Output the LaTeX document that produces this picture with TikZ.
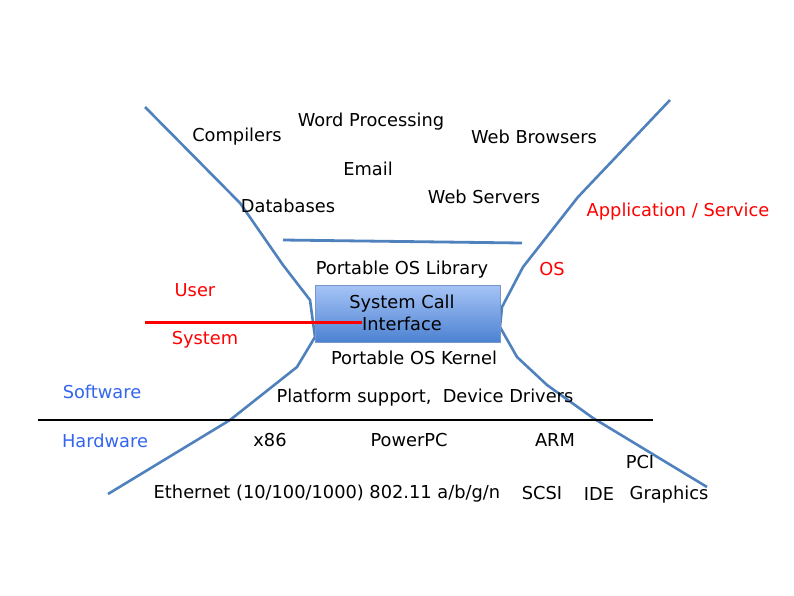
\documentclass[tikz,border=0pt]{standalone}
\usepackage{fontspec}
\setmainfont{DejaVu Sans}

\begin{document}
\begin{tikzpicture}[
                x=1pt, y=-1pt,
                every node/.style={font=\fontsize{17.8}{22}\selectfont, inner sep=0pt, yshift=-1.5pt},
                layer/.style={text=red},
                side/.style={text=sideblue},
                curve/.style={draw=lineblue, line width=2.6pt, line join=round},
                callbox/.style={draw=boxedge, top color=boxtop, bottom color=boxbottom,
                    minimum width=185pt, minimum height=57pt, yshift=1.5pt}
                ]
            \definecolor{lineblue}{RGB}{79,129,189}
            \definecolor{sideblue}{RGB}{51,102,238}
            \definecolor{boxtop}{RGB}{166,196,246}
            \definecolor{boxbottom}{RGB}{76,130,210}
            \definecolor{boxedge}{RGB}{120,150,200}
            \useasboundingbox (0,0) rectangle (794,595);
            % Hourglass
            \draw[curve] (145,107) -- (240,203) -- (283,265) -- (310,300) -- (315,337)
                -- (297,367) -- (230,420) -- (108,494);
            \draw[curve] (670,100) -- (578,197) -- (523,267) -- (502,307) -- (500,327)
                -- (517,357) -- (547,385) -- (593,418) -- (707,487);
            \draw[curve, line width=2.8pt] (283,240) -- (522,243);
            \draw[line width=2.6pt] (38,420) -- (653,420);
            % Nodes
            \node[callbox] (sci) at (407.5,313.5) {};
            \coordinate (userleft) at (145,321);
            \coordinate (userright) at (362,321);
            \draw[red, line width=2.4pt] (userleft) -- (userright);
            \node[align=center] (scitext) at (402,311) {System Call\\Interface};
            \node (compilers) at (237,135) {Compilers};
            \node (word) at (371,120) {Word Processing};
            \node (browsers) at (534,135) {Web Browsers};
            \node (email) at (368,167) {Email};
            \node (servers) at (484,195) {Web Servers};
            \node (databases) at (288,204) {Databases};
            \node[layer] (app) at (678,210) {Application / Service};
            \node (library) at (402,268) {Portable OS Library};
            \node[layer] (os) at (552,268) {OS};
            \node[layer] (user) at (195,289) {User};
            \node[layer] (system) at (205,338) {System};
            \node (kernel) at (414,356) {Portable OS Kernel};
            \node[side] (software) at (102,390) {Software};
            \node (platform) at (425,396) {Platform support,\ \ Device Drivers};
            \node[side] (hardware) at (105,439) {Hardware};
            \node (x86) at (270,439) {x86};
            \node (powerpc) at (409,439) {PowerPC};
            \node (arm) at (555,439) {ARM};
            \node (pci) at (640,461) {PCI};
            \node (ethernet) at (327,492) {Ethernet (10/100/1000) 802.11 a/b/g/n};
            \node (scsi) at (542,492) {SCSI};
            \node (ide) at (599,492) {IDE};
            \node (graphics) at (669,493) {Graphics};

            \end{tikzpicture}
\end{document}
